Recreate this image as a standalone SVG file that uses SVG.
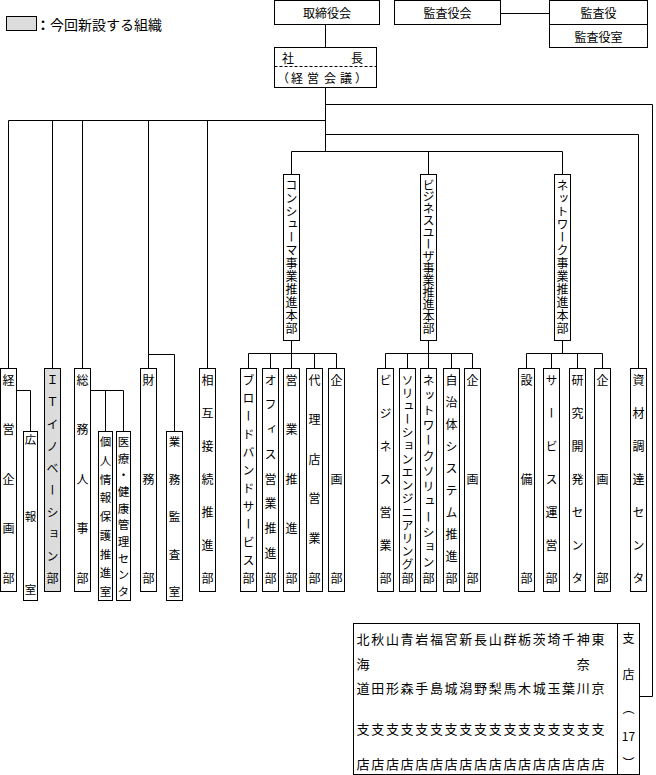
<svg xmlns="http://www.w3.org/2000/svg" width="656" height="775" viewBox="0 0 656 775">
<style>
.b{fill:#fff;stroke:#000;stroke-width:1}
.g{fill:#dcdcdc;stroke:#000;stroke-width:1}
.c{fill:none;stroke:#000;stroke-width:1}
text{font-family:"Noto Sans CJK JP","Noto Sans",sans-serif;font-size:12px;fill:#000}
.h{text-anchor:middle;dominant-baseline:central}
.v{writing-mode:vertical-rl}
.s{font-size:11.5px}
.r{font-size:13px}
</style>
<rect width="656" height="775" fill="#fff"/>
<g id="legend">
<rect class="g" x="6.5" y="16.5" width="30" height="14"/>
<text x="36" y="23.5" dominant-baseline="central" style="font-size:14px"><tspan font-weight="bold">：</tspan>今回新設する組織</text>
</g>
<g id="connectors" class="c">
<path d="M325.5 24.5V47.5M325.5 87.5V151.5M325.5 104.5H652.5V696.5H639.5M8.5 120.5H325.5M8.5 120.5V368.5M52.5 120.5V368.5M82.5 120.5V368.5M148.5 120.5V368.5M207.5 120.5V368.5M16.5 390.5H30.5V431.5M90.5 390.5H123.5V431.5M105.5 390.5V431.5M148.5 354.5H174.5V431.5M325.5 134.5H638.5V368.5M291.5 151.5H562.5M291.5 151.5V174.5M428.5 151.5V174.5M562.5 151.5V174.5M291.5 340.5V353.5M248.5 353.5H336.5M248.5 353.5V368.5M270.5 353.5V368.5M291.5 353.5V368.5M314.5 353.5V368.5M336.5 353.5V368.5M428.5 340.5V353.5M385.5 353.5H472.5M385.5 353.5V368.5M407.5 353.5V368.5M428.5 353.5V368.5M451.5 353.5V368.5M472.5 353.5V368.5M562.5 340.5V353.5M526.5 353.5H602.5M526.5 353.5V368.5M551.5 353.5V368.5M577.5 353.5V368.5M602.5 353.5V368.5M500.5 13.5H549.5"/>
</g>
<g id="n-torishimari"><rect class="b" x="274.5" y="0.5" width="105" height="24"/><text class="h" x="327" y="12.5">取締役会</text></g>
<g id="n-kansayakukai"><rect class="b" x="394.5" y="0.5" width="106" height="24"/><text class="h" x="447.5" y="12.5">監査役会</text></g>
<g id="n-kansayaku"><rect class="b" x="549.5" y="0.5" width="98" height="24"/><rect class="b" x="549.5" y="24.5" width="98" height="23"/><text class="h" x="598.5" y="12.5">監査役</text><text class="h" x="598.5" y="36">監査役室</text></g>
<g id="n-shacho"><rect class="b" x="274.5" y="47.5" width="102" height="40"/><path d="M274.5 66.5H376.5" stroke="#000" stroke-dasharray="3 2"/><text class="h" x="288 357" y="57.5">社長</text><text class="h" x="283 297 313 330 346 361" y="77">（経営会議）</text></g>
<g id="n-keiei"><rect class="b" x="0.5" y="368.5" width="16" height="223"/><text class="v" x="8.5" y="374 423.5 473 522.5 572">経営企画部</text></g>
<g id="n-koho"><rect class="b" x="23.5" y="431.5" width="14" height="169"/><text class="v s" x="30.5" y="434 511 584">広報室</text></g>
<g id="n-it"><rect class="g" x="44.5" y="368.5" width="16" height="223"/><text class="v" x="52.5" y="374 396 418 440 462 484 506 528 550 572">ＩＴイノベーション部</text></g>
<g id="n-somu"><rect class="b" x="74.5" y="368.5" width="16" height="223"/><text class="v" x="82.5" y="374 423.5 473 522.5 572">総務人事部</text></g>
<g id="n-kojin"><rect class="b" x="98.5" y="431.5" width="14" height="169"/><text class="v s" x="105.5" y="436 454.75 473.5 492.25 511 529.75 548.5 567.25 586">個人情報保護推進室</text></g>
<g id="n-iryo"><rect class="b" x="116.5" y="431.5" width="14" height="169"/><text class="v s" x="123.5" y="436 452.67 469.33 486 502.67 519.33 536 552.67 569.33 586">医療・健康管理センタ</text></g>
<g id="n-zaimu"><rect class="b" x="140.5" y="368.5" width="16" height="223"/><text class="v" x="148.5" y="374 473 572">財務部</text></g>
<g id="n-gyomu"><rect class="b" x="166.5" y="431.5" width="16" height="169"/><text class="v s" x="174.5" y="436 473.5 511 548.5 586">業務監査室</text></g>
<g id="n-sogo"><rect class="b" x="199.5" y="368.5" width="16" height="223"/><text class="v" x="207.5" y="374 407 440 473 506 539 572">相互接続推進部</text></g>
<g id="n-consumer"><rect class="b" x="283.5" y="174.5" width="16" height="166"/><text class="v" x="291.5" y="179 192 205 218 231 244 257 270 283 296 309 322">コンシューマ事業推進本部</text></g>
<g id="n-business"><rect class="b" x="420.5" y="174.5" width="16" height="166"/><text class="v" x="428.5" y="179 190.92 202.83 214.75 226.67 238.58 250.5 262.42 274.33 286.25 298.17 310.08 322">ビジネスユーザ事業推進本部</text></g>
<g id="n-network"><rect class="b" x="554.5" y="174.5" width="16" height="166"/><text class="v" x="562.5" y="179 192 205 218 231 244 257 270 283 296 309 322">ネットワーク事業推進本部</text></g>
<g id="n-broadband"><rect class="b" x="240.5" y="368.5" width="16" height="223"/><text class="v" x="248.5" y="374 392 410 428 446 464 482 500 518 536 554 572">ブロードバンドサービス部</text></g>
<g id="n-office"><rect class="b" x="262.5" y="368.5" width="16" height="223"/><text class="v" x="270.5" y="374 398.75 423.5 448.25 473 497.75 522.5 547.25 572">オフィス営業推進部</text></g>
<g id="n-eigyo"><rect class="b" x="283.5" y="368.5" width="16" height="223"/><text class="v" x="291.5" y="374 423.5 473 522.5 572">営業推進部</text></g>
<g id="n-dairiten"><rect class="b" x="306.5" y="368.5" width="16" height="223"/><text class="v" x="314.5" y="374 413.6 453.2 492.8 532.4 572">代理店営業部</text></g>
<g id="n-kikaku1"><rect class="b" x="328.5" y="368.5" width="16" height="223"/><text class="v" x="336.5" y="374 473 572">企画部</text></g>
<g id="n-bizeigyo"><rect class="b" x="377.5" y="368.5" width="16" height="223"/><text class="v" x="385.5" y="374 407 440 473 506 539 572">ビジネス営業部</text></g>
<g id="n-solution"><rect class="b" x="399.5" y="368.5" width="16" height="223"/><text class="v" x="407.5" y="374 387.2 400.4 413.6 426.8 440 453.2 466.4 479.6 492.8 506 519.2 532.4 545.6 558.8 572">ソリューションエンジニアリング部</text></g>
<g id="n-netsol"><rect class="b" x="420.5" y="368.5" width="16" height="223"/><text class="v" x="428.5" y="374 389.23 404.46 419.69 434.92 450.15 465.38 480.62 495.85 511.08 526.31 541.54 556.77 572">ネットワークソリューション部</text></g>
<g id="n-jichitai"><rect class="b" x="443.5" y="368.5" width="16" height="223"/><text class="v" x="451.5" y="374 396 418 440 462 484 506 528 550 572">自治体システム推進部</text></g>
<g id="n-kikaku2"><rect class="b" x="464.5" y="368.5" width="16" height="223"/><text class="v" x="472.5" y="374 473 572">企画部</text></g>
<g id="n-setsubi"><rect class="b" x="518.5" y="368.5" width="16" height="223"/><text class="v" x="526.5" y="374 473 572">設備部</text></g>
<g id="n-service"><rect class="b" x="543.5" y="368.5" width="16" height="223"/><text class="v" x="551.5" y="374 407 440 473 506 539 572">サービス運営部</text></g>
<g id="n-kenkyu"><rect class="b" x="569.5" y="368.5" width="16" height="223"/><text class="v" x="577.5" y="374 407 440 473 506 539 572">研究開発センタ</text></g>
<g id="n-kikaku3"><rect class="b" x="594.5" y="368.5" width="16" height="223"/><text class="v" x="602.5" y="374 473 572">企画部</text></g>
<g id="n-shizai"><rect class="b" x="630.5" y="368.5" width="16" height="223"/><text class="v" x="638.5" y="374 407 440 473 506 539 572">資材調達センタ</text></g>
<g id="n-shiten">
<rect class="b" x="353.5" y="623.5" width="286" height="151"/>
<path class="c" d="M617.5 623.5V774.5"/>
<text class="h r" x="363 377.7 392.4 407.1 421.8 436.4 451.1 465.8 480.5 495.2 509.9 524.6 539.3 553.9 568.6 583.3 598" y="638">北秋山青岩福宮新長山群栃茨埼千神東</text>
<text class="h r" x="363 583.3" y="663">海奈</text>
<text class="h r" x="363 377.7 392.4 407.1 421.8 436.4 451.1 465.8 480.5 495.2 509.9 524.6 539.3 553.9 568.6 583.3 598" y="687">道田形森手島城潟野梨馬木城玉葉川京</text>
<text class="h r" x="363 377.7 392.4 407.1 421.8 436.4 451.1 465.8 480.5 495.2 509.9 524.6 539.3 553.9 568.6 583.3 598" y="728">支支支支支支支支支支支支支支支支支</text>
<text class="h r" x="363 377.7 392.4 407.1 421.8 436.4 451.1 465.8 480.5 495.2 509.9 524.6 539.3 553.9 568.6 583.3 598" y="763">店店店店店店店店店店店店店店店店店</text>
<text class="h" x="628.5" y="637">支</text>
<text class="h" x="628.5" y="673">店</text>
<text class="h" x="628.5" y="707">︵</text>
<text class="h" x="628.5" y="735">17</text>
<text class="h" x="628.5" y="762">︶</text>
</g>
</svg>
